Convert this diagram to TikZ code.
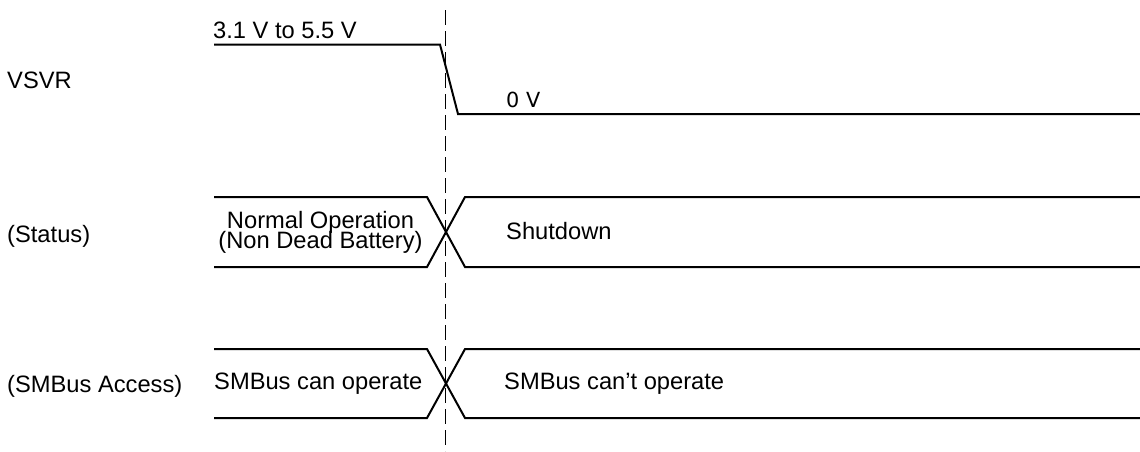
\documentclass[tikz,border=0pt]{standalone}
\usepackage{fontspec}
\setmainfont{Liberation Sans}
\newfontfamily\dvfont{DejaVu Sans}
\begin{document}
\begin{tikzpicture}[x=1pt,y=-1pt,
  lbl/.style={inner sep=0pt,anchor=base west,font=\fontsize{23.7}{24}\selectfont},
  clbl/.style={inner sep=0pt,anchor=base,font=\fontsize{23.7}{24}\selectfont},
  wave/.style={line width=2pt,line join=miter},
  marker/.style={line width=1.8pt,dash pattern=on 15pt off 6pt}]
\useasboundingbox (0,0) rectangle (1140,451);
% labels on the left
\node[lbl] (vsvr) at (7,88) {VSVR};
\node[lbl] (status) at (7,242) {(Status)};
\node[lbl] (smb) at (7,392) {(SMBus Access)};
% VSVR waveform
\coordinate (v0) at (214,44.5);
\coordinate (v1) at (440,44.5);
\coordinate (v2) at (458,114);
\coordinate (v3) at (1140,114);
\draw[wave] (v0) -- (v1) -- (v2) -- (v3);
\node[lbl] (vhigh) at (213,38) {3.1 V to 5.5 V};
\node[inner sep=0pt,anchor=base west,font=\dvfont\fontsize{20.8}{22}\selectfont] (vlow) at (506,107) {0 V};
% Status bus
\coordinate (s1) at (214,197);
\coordinate (s2) at (427,197);
\coordinate (s3) at (465,267);
\coordinate (s4) at (1140,267);
\coordinate (s5) at (214,267);
\coordinate (s6) at (427,267);
\coordinate (s7) at (465,197);
\coordinate (s8) at (1140,197);
\draw[wave] (s1) -- (s2) -- (s3) -- (s4);
\draw[wave] (s5) -- (s6) -- (s7) -- (s8);
\node[clbl] (norm1) at (320.5,228.5) {Normal Operation};
\node[clbl] (norm2) at (320.5,248.5) {(Non Dead Battery)};
\node[lbl] (shut) at (506,239) {Shutdown};
% SMBus bus
\coordinate (m1) at (214,349);
\coordinate (m2) at (427,349);
\coordinate (m3) at (465,418);
\coordinate (m4) at (1140,418);
\coordinate (m5) at (214,418);
\coordinate (m6) at (427,418);
\coordinate (m7) at (465,349);
\coordinate (m8) at (1140,349);
\draw[wave] (m1) -- (m2) -- (m3) -- (m4);
\draw[wave] (m5) -- (m6) -- (m7) -- (m8);
\node[lbl] (can) at (214,389) {SMBus can operate};
\node[lbl] (cant) at (504,389) {SMBus can’t operate};
% dashed time marker
\coordinate (d0) at (445.5,10);
\coordinate (d1) at (445.5,451);
\draw[marker] (d0) -- (d1);
\end{tikzpicture}
\end{document}
